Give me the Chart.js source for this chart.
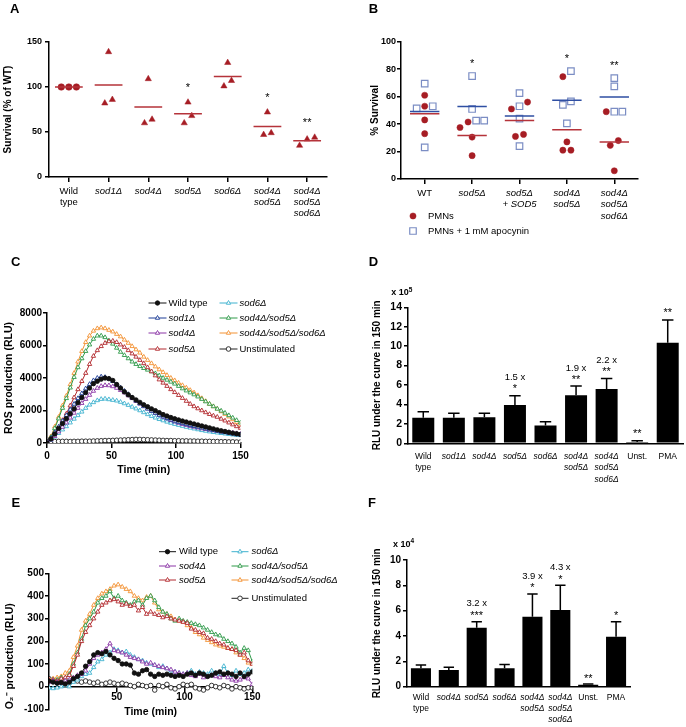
<!DOCTYPE html>
<html>
<head>
<meta charset="utf-8">
<script src="https://cdn.jsdelivr.net/npm/chart.js@4.4.1/dist/chart.umd.min.js"></script>
<style>
  body { margin: 0; background: #fff; }
  #fig { position: relative; width: 686px; height: 727px; font-family: 'Liberation Sans', Arial, sans-serif; color: #000; }
  #fig canvas { position: absolute; }
  .tag { position: absolute; font-size: 13px; font-weight: bold; line-height: 1; }
  .exp { position: absolute; font-size: 9px; font-weight: bold; line-height: 1; white-space: nowrap; }
  .exp span { font-size: 6.5px; position: relative; top: -3.5px; }
</style>
</head>
<body>
<div id="fig">
  <canvas id="cA" width="343" height="270" style="left:0;top:0"></canvas>
  <canvas id="cB" width="343" height="270" style="left:343px;top:0"></canvas>
  <canvas id="cC" width="343" height="210" style="left:0;top:270px"></canvas>
  <canvas id="cD" width="343" height="225" style="left:343px;top:270px"></canvas>
  <canvas id="cE" width="343" height="247" style="left:0;top:480px"></canvas>
  <canvas id="cF" width="343" height="247" style="left:343px;top:480px"></canvas>
  <div class="tag" style="left:10px;top:2.3px">A</div>
  <div class="tag" style="left:368.7px;top:2.3px">B</div>
  <div class="tag" style="left:11px;top:254.7px">C</div>
  <div class="tag" style="left:368.7px;top:254.7px">D</div>
  <div class="tag" style="left:11.5px;top:495.7px">E</div>
  <div class="tag" style="left:368px;top:495.7px">F</div>
  <div class="exp" style="left:391.3px;top:288px">x 10<span>5</span></div>
  <div class="exp" style="left:393px;top:539.5px">x 10<span>4</span></div>
</div>
<script>
// ---------- data ----------
const catsA = [['Wild', 'type'], 'sod1Δ', 'sod4Δ', 'sod5Δ', 'sod6Δ', ['sod4Δ', 'sod5Δ'], ['sod4Δ', 'sod5Δ', 'sod6Δ']];
const survA = [[100, 100, 100], [139, 82, 86], [109, 60, 64], [83, 60, 68], [127, 101, 107], [72, 47, 49], [44, 35, 42]];
const starsA = ['', '', '', '*', '', '*', '**'];

const catsB = ['WT', 'sod5Δ', ['sod5Δ', '+ SOD5'], ['sod4Δ', 'sod5Δ'], ['sod4Δ', 'sod5Δ', 'sod6Δ']];
const pmns = [[53, 61, 43, 33], [37.5, 41.5, 30.5, 17], [51, 56, 32.5, 31], [74.5, 27, 21, 21], [49, 28, 24.5, 6]];
const apoc = [[69.5, 51.5, 53, 23], [75, 51, 42.5, 42.5], [62.5, 53, 44, 24], [78.5, 56.5, 54, 40.5], [73.5, 67.5, 49, 49]];
const starsB = ['', '*', '', '*', '**'];

const timeC = [0, 3, 6, 9, 12, 15, 18, 21, 24, 27, 30, 33, 36, 39, 42, 45, 48, 51, 54, 57, 60, 63, 66, 69, 72, 75,
  78, 81, 84, 87, 90, 93, 96, 99, 102, 105, 108, 111, 114, 117, 120, 123, 126, 129, 132, 135, 138, 141, 144, 147, 150];
const wtC = [0, 250, 550, 900, 1200, 1500, 1800, 2100, 2480, 2800, 3100, 3380, 3650, 3800, 3930, 4000, 3960, 3850, 3600, 3380,
  3150, 2970, 2800, 2650, 2500, 2350, 2230, 2100, 1990, 1870, 1750, 1660, 1570, 1490, 1420, 1350, 1290, 1230, 1170, 1110,
  1050, 990, 930, 870, 810, 750, 710, 660, 610, 570, 530];
const sod1C = [0, 300, 650, 1000, 1350, 1700, 2050, 2400, 2750, 3050, 3350, 3620, 3850, 4000, 4080, 4050, 3950, 3800, 3600, 3400,
  3200, 3000, 2800, 2600, 2420, 2250, 2100, 1960, 1840, 1720, 1620, 1520, 1430, 1350, 1280, 1210, 1150, 1090, 1030, 980,
  930, 880, 830, 780, 730, 690, 650, 610, 570, 530, 500];
const sod4C = [0, 200, 420, 700, 980, 1250, 1550, 1850, 2150, 2450, 2700, 2950, 3200, 3380, 3500, 3550, 3540, 3480, 3380, 3250,
  3100, 2920, 2750, 2580, 2420, 2270, 2120, 1980, 1850, 1730, 1610, 1500, 1400, 1310, 1230, 1160, 1100, 1040, 990, 940,
  890, 850, 810, 770, 740, 710, 680, 650, 620, 590, 560];
const sod5C = [0, 250, 600, 950, 1400, 1800, 2300, 2800, 3300, 3800, 4300, 4850, 5350, 5700, 5950, 6150, 6250, 6280, 6200, 6050,
  5900, 5700, 5500, 5300, 5100, 4900, 4650, 4400, 4150, 3900, 3700, 3500, 3300, 3120, 2940, 2760, 2580, 2400, 2250, 2120,
  2000, 1880, 1770, 1680, 1600, 1480, 1370, 1250, 1130, 1020, 920];
const sod6C = [0, 180, 380, 600, 820, 1020, 1250, 1480, 1700, 1920, 2150, 2350, 2500, 2620, 2700, 2720, 2680, 2640, 2600, 2520,
  2430, 2330, 2220, 2110, 2000, 1880, 1760, 1650, 1550, 1460, 1380, 1300, 1230, 1160, 1100, 1040, 980, 930, 880, 830,
  780, 740, 700, 660, 630, 600, 570, 540, 510, 490, 470];
const sod45C = [0, 350, 900, 1500, 2150, 2750, 3400, 4050, 4650, 5200, 5650, 6050, 6400, 6600, 6600, 6500, 6300, 6100, 5850, 5600,
  5400, 5200, 5000, 4850, 4720, 4600, 4500, 4400, 4280, 4150, 4000, 3880, 3760, 3640, 3500, 3350, 3220, 3100, 2980, 2850,
  2700, 2550, 2400, 2250, 2100, 1980, 1850, 1700, 1550, 1400, 1250];
const sod456C = [0, 400, 1000, 1600, 2300, 2900, 3600, 4300, 5000, 5650, 6200, 6600, 6900, 7050, 7100, 7050, 6950, 6850, 6700, 6550,
  6350, 6150, 5950, 5750, 5550, 5300, 5100, 4900, 4700, 4520, 4350, 4170, 4000, 3850, 3700, 3550, 3400, 3250, 3100, 2930,
  2750, 2570, 2400, 2250, 2100, 1940, 1780, 1620, 1450, 1280, 1120];
const unstC = [80, 90, 90, 100, 100, 100, 90, 100, 100, 110, 110, 110, 120, 130, 140, 150, 150, 160, 170, 180,
  190, 200, 210, 220, 220, 210, 200, 190, 180, 170, 160, 150, 150, 140, 140, 130, 130, 120, 120, 110,
  110, 100, 100, 90, 90, 80, 80, 70, 70, 60, 60];

const catsD = [['Wild', 'type'], 'sod1Δ', 'sod4Δ', 'sod5Δ', 'sod6Δ', ['sod4Δ', 'sod5Δ'], ['sod4Δ', 'sod5Δ', 'sod6Δ'], 'Unst.', 'PMA'];
const aucD = [2.64, 2.64, 2.68, 3.95, 1.82, 4.94, 5.59, 0.14, 10.36];
const semD = [0.62, 0.45, 0.41, 0.95, 0.41, 0.96, 1.07, 0.13, 2.34];
const starsD = ['', '', '', '*', '', '**', '**', '**', '**'];
const foldD = ['', '', '', '1.5 x', '', '1.9 x', '2.2 x', '', ''];

const timeE = timeC;
const ticksE = [50, 100, 150];
const wtE = [25, 20, 15, 18, 12, 20, 35, 45, 60, 90, 110, 140, 150, 145, 155, 140, 125, 115, 100, 100,
  95, 60, 55, 70, 75, 55, 45, 55, 50, 55, 50, 45, 50, 45, 55, 60, 50, 60, 55, 45, 50, 60, 65, 55, 60, 55, 45, 60, 45, 55, 65];
const sod4E = [20, 25, 20, 15, 25, 30, 40, 50, 55, 70, 100, 125, 140, 150, 165, 190, 160, 155, 150, 140,
  130, 125, 120, 110, 100, 105, 95, 90, 85, 80, 75, 65, 60, 55, 60, 50, 45, 55, 40, 45, 50, 45, 40, 50, 40, 30, 25, 30, 40, 35, 10];
const sod5E = [30, 30, 25, 35, 40, 50, 90, 140, 200, 240, 270, 300, 330, 360, 370, 380, 385, 375, 360, 365,
  355, 360, 335, 350, 320, 330, 320, 315, 305, 310, 300, 295, 290, 285, 280, 255, 250, 240, 235, 215,
  210, 200, 190, 185, 170, 165, 160, 140, 150, 115, 100];
const sod6E = [-5, -8, -5, 0, 5, 0, 20, 30, 45, 55, 60, 85, 110, 120, 140, 150, 165, 160, 150, 155,
  140, 130, 120, 115, 105, 100, 95, 85, 90, 80, 70, 65, 60, 55, 60, 70, 55, 65, 60, 55, 70, 60, 55, 90, 60, 50, 70, 55, 60, 75, 70];
const sod45E = [25, 30, 30, 40, 35, 55, 100, 150, 210, 270, 300, 330, 370, 390, 400, 420, 390, 400, 380, 370,
  360, 375, 380, 360, 390, 400, 380, 350, 330, 320, 300, 290, 300, 290, 285, 280, 275, 270, 260, 250,
  240, 230, 225, 210, 200, 190, 175, 150, 170, 160, 110];
const sod456E = [30, 35, 40, 45, 60, 70, 130, 180, 250, 290, 320, 360, 390, 410, 420, 430, 445, 450, 440, 430,
  420, 400, 390, 380, 395, 400, 370, 340, 330, 320, 310, 295, 290, 285, 270, 260, 240, 230, 215, 205,
  195, 185, 180, 175, 170, 165, 150, 140, 125, 105, 100];
const unstE = [35, 25, 20, 30, 25, 20, 30, 25, 20, 25, 20, 15, 20, 10, 15, 20, 15, 10, 15, 10,
  5, 0, 10, 5, 0, 5, -15, 5, 0, 10, -5, -10, 0, 10, 5, 10, -5, -10, -15, -5, 5, 0, -5, 5, 0, -10, 0, -5, -10, -5, -5];

const catsF = [['Wild', 'type'], 'sod4Δ', 'sod5Δ', 'sod6Δ', ['sod4Δ', 'sod5Δ'], ['sod4Δ', 'sod5Δ', 'sod6Δ'], 'Unst.', 'PMA'];
const aucF = [1.45, 1.32, 4.66, 1.45, 5.53, 6.05, 0.16, 3.95];
const semF = [0.26, 0.21, 0.47, 0.31, 1.79, 1.95, 0.05, 1.18];
const starsF = ['', '', '***', '', '*', '*', '**', '*'];
const foldF = ['', '', '3.2 x', '', '3.9 x', '4.3 x', '', ''];

// ---------- styling helpers ----------
const FAM = "'Liberation Sans', Arial, sans-serif";
Chart.defaults.font.family = FAM;
Chart.defaults.color = '#000';

const RED_DOT = '#a61d24';
const RED_LINE = '#b5333a';
const BLUE_LINE = '#2f4fa3';
const BLUE_SQ = '#7b8dc4';
const axisLine = { color: '#000', width: 1.5 };

function marks(len) {
  return { drawOnChartArea: false, tickLength: len, tickWidth: 1.5, tickColor: '#000', color: '#000', lineWidth: 1.5 };
}

function base(extra) {
  return Object.assign({
    responsive: false, animation: false, devicePixelRatio: 1, events: [],
    plugins: { legend: { display: false }, tooltip: { enabled: false } }
  }, extra);
}

// italic for gene names, upright for the rest
function catFont(cats, size, lh) {
  return ctx => {
    const c = cats[ctx.index];
    const first = Array.isArray(c) ? c[0] : c;
    return { size, lineHeight: lh, style: /^sod/.test(first || '') ? 'italic' : 'normal' };
  };
}

function yAxis(o) {
  return {
    min: o.min, max: o.max,
    ticks: { stepSize: o.step, font: { size: o.size, weight: 'bold' }, padding: o.pad, callback: v => String(v) },
    grid: marks(4), border: axisLine,
    title: { display: true, text: o.title, align: o.align || 'center', font: { size: o.tsize, weight: 'bold' }, padding: { top: o.tpad, bottom: 0 } },
    afterFit: s => { s.width = o.width; }
  };
}

// category axis drawn on a linear scale so points can be spread sideways
function catAxis(cats, height, pad, size, lh) {
  return {
    type: 'linear', min: -0.5, max: cats.length - 0.5,
    afterBuildTicks: s => { s.ticks = cats.map((c, i) => ({ value: i })); },
    afterFit: s => { s.height = height; },
    ticks: { callback: v => cats[v], font: catFont(cats, size, lh), padding: pad, autoSkip: false, maxRotation: 0 },
    grid: marks(5), border: axisLine
  };
}

// plain category axis for the bar panels (no tick marks)
function barAxis(cats, height, pad, size, lh) {
  return {
    ticks: { font: catFont(cats, size, lh), padding: pad, autoSkip: false, maxRotation: 0 },
    grid: { display: false, drawTicks: false, tickLength: 0 }, border: axisLine,
    afterFit: s => { s.height = height; }
  };
}

const mean = a => a.reduce((s, v) => s + v, 0) / a.length;

// spread points with close values symmetrically around the category centre
function dodge(values, thr, step) {
  const idx = values.map((v, i) => i).sort((a, b) => values[a] - values[b]);
  const off = values.map(() => 0);
  let run = [idx[0]];
  const flush = () => run.forEach((k, j) => { off[k] = (j - (run.length - 1) / 2) * step; });
  for (let j = 1; j < idx.length; j++) {
    if (values[idx[j]] - values[idx[j - 1]] < thr) run.push(idx[j]);
    else { flush(); run = [idx[j]]; }
  }
  flush();
  return off;
}

function swarm(groups, thr, step) {
  return groups.map((g, i) => {
    const off = dodge(g, thr, step);
    return g.map((v, k) => ({ x: i + off[k], y: v }));
  });
}

function meanSegs(groups, half) {
  const out = [];
  groups.forEach((g, i) => {
    const m = mean(g);
    out.push({ x: i - half, y: m }, { x: i + half, y: m }, { x: i + half, y: null });
  });
  return out;
}

function series(label, xs, ys, s) {
  return {
    label, data: xs.map((x, i) => ({ x, y: ys[i] })),
    borderColor: s.color, borderWidth: 1, tension: 0,
    pointStyle: s.style, pointRadius: s.r, pointBorderColor: s.color,
    pointBackgroundColor: s.fill, pointBorderWidth: 0.9
  };
}

const STY = {
  wt: { color: '#111', style: 'circle', fill: '#111', r: 2.2 },
  sod1: { color: '#1c3c96', style: 'triangle', fill: '#fff', r: 2.5 },
  sod4: { color: '#8b35a6', style: 'triangle', fill: '#fff', r: 2.5 },
  sod5: { color: '#b2292e', style: 'triangle', fill: '#fff', r: 2.5 },
  sod6: { color: '#3fb2cf', style: 'triangle', fill: '#fff', r: 2.5 },
  sod45: { color: '#2f9a49', style: 'triangle', fill: '#fff', r: 2.5 },
  sod456: { color: '#f39233', style: 'triangle', fill: '#fff', r: 2.5 },
  unst: { color: '#222', style: 'circle', fill: '#fff', r: 2.3 }
};

// ---------- small plugins ----------
function notes(tops, rows) {
  return {
    id: 'notes',
    afterDatasetsDraw(chart) {
      const { ctx, scales: { x, y } } = chart;
      ctx.save();
      ctx.fillStyle = '#000';
      ctx.textAlign = 'center';
      ctx.textBaseline = 'middle';
      rows.forEach(r => {
        ctx.font = r.font;
        r.text.forEach((t, i) => {
          if (t) ctx.fillText(t, x.getPixelForValue(i), y.getPixelForValue(tops[i]) - r.gap);
        });
      });
      ctx.restore();
    }
  };
}

function errorBars(sem) {
  return {
    id: 'errorBars',
    afterDatasetsDraw(chart) {
      const { ctx } = chart;
      const y = chart.scales.y;
      const vals = chart.data.datasets[0].data;
      ctx.save();
      ctx.strokeStyle = '#000';
      ctx.lineWidth = 1.5;
      chart.getDatasetMeta(0).data.forEach((bar, i) => {
        const top = y.getPixelForValue(vals[i] + sem[i]);
        const w = bar.width * 0.26;
        ctx.beginPath();
        ctx.moveTo(bar.x, bar.y);
        ctx.lineTo(bar.x, top);
        ctx.moveTo(bar.x - w, top);
        ctx.lineTo(bar.x + w, top);
        ctx.stroke();
      });
      ctx.restore();
    }
  };
}

function key(items, line, gap) {
  return {
    id: 'key',
    afterDraw(chart) {
      const ctx = chart.ctx;
      ctx.save();
      items.forEach(it => {
        const ds = chart.data.datasets[it.ds];
        if (line) {
          ctx.strokeStyle = ds.borderColor;
          ctx.lineWidth = ds.borderWidth;
          ctx.beginPath();
          ctx.moveTo(it.x - line / 2, it.y);
          ctx.lineTo(it.x + line / 2, it.y);
          ctx.stroke();
        }
        ctx.fillStyle = ds.pointBackgroundColor;
        ctx.strokeStyle = ds.pointBorderColor;
        ctx.lineWidth = ds.pointBorderWidth;
        Chart.helpers.drawPoint(ctx, { pointStyle: ds.pointStyle, radius: ds.pointRadius, borderWidth: ds.pointBorderWidth, rotation: 0 }, it.x, it.y);
        ctx.fillStyle = '#000';
        ctx.font = (/^sod/.test(ds.label) ? 'italic ' : '') + '9.5px ' + FAM;
        ctx.textAlign = 'left';
        ctx.textBaseline = 'middle';
        ctx.fillText(ds.label, it.x + line / 2 + gap, it.y);
      });
      ctx.restore();
    }
  };
}

// ---------- A ----------
const ptsA = swarm(survA, 9, 0.19);
new Chart(document.getElementById('cA'), {
  type: 'scatter',
  data: {
    datasets: [
      { type: 'line', data: meanSegs(survA, 0.35), borderColor: RED_LINE, borderWidth: 1.5, pointRadius: 0 },
      { data: ptsA[0], pointStyle: 'circle', pointRadius: 3.3, pointBackgroundColor: RED_DOT, pointBorderColor: RED_DOT, pointBorderWidth: 0.5 },
      { data: ptsA.slice(1).flat(), pointStyle: 'triangle', pointRadius: 3.6, pointBackgroundColor: RED_DOT, pointBorderColor: RED_DOT, pointBorderWidth: 0.5 }
    ]
  },
  options: base({
    layout: { padding: { top: 42, right: 16, left: 0, bottom: 0 } },
    scales: {
      x: catAxis(catsA, 93, 4, 9.5, 1.15),
      y: yAxis({ min: 0, max: 150, step: 50, size: 9, pad: 3, title: 'Survival (% of WT)', tsize: 10, tpad: 2, width: 49 })
    }
  }),
  plugins: [notes(survA.map(g => Math.max(...g)), [{ text: starsA, gap: 14, font: '11px ' + FAM }])]
});

// ---------- B ----------
const allB = pmns.map((g, i) => g.concat(apoc[i]));
const ptsB = swarm(allB, 5.5, 0.17);
new Chart(document.getElementById('cB'), {
  type: 'scatter',
  data: {
    datasets: [
      { type: 'line', data: meanSegs(pmns, 0.31), borderColor: RED_LINE, borderWidth: 1.5, pointRadius: 0 },
      { type: 'line', data: meanSegs(apoc, 0.31), borderColor: BLUE_LINE, borderWidth: 1.5, pointRadius: 0 },
      { label: 'PMNs', data: ptsB.flatMap((p, i) => p.slice(0, pmns[i].length)), pointStyle: 'circle', pointRadius: 3.1,
        pointBackgroundColor: RED_DOT, pointBorderColor: RED_DOT, pointBorderWidth: 0.5 },
      { label: 'PMNs + 1 mM apocynin', data: ptsB.flatMap((p, i) => p.slice(pmns[i].length)), pointStyle: 'rect', pointRadius: 4.6,
        pointBackgroundColor: '#fff', pointBorderColor: BLUE_SQ, pointBorderWidth: 1.2 }
    ]
  },
  options: base({
    layout: { padding: { top: 41.7, right: 48, left: 0, bottom: 0 } },
    scales: {
      x: catAxis(catsB, 91, 3.6, 9.5, 1.2),
      y: yAxis({ min: 0, max: 100, step: 20, size: 9, pad: 1, title: '% Survival', tsize: 10, tpad: 26, width: 58 })
    }
  }),
  plugins: [
    notes(allB.map(g => Math.max(...g)), [{ text: starsB, gap: 12.5, font: '11px ' + FAM }]),
    key([{ ds: 2, x: 70, y: 216 }, { ds: 3, x: 70, y: 231 }], 0, 15)
  ]
});

// ---------- C ----------
new Chart(document.getElementById('cC'), {
  type: 'line',
  data: {
    datasets: [
      series('Wild type', timeC, wtC, STY.wt),
      series('sod1Δ', timeC, sod1C, STY.sod1),
      series('sod4Δ', timeC, sod4C, STY.sod4),
      series('sod5Δ', timeC, sod5C, STY.sod5),
      series('sod6Δ', timeC, sod6C, STY.sod6),
      series('sod4Δ/sod5Δ', timeC, sod45C, STY.sod45),
      series('sod4Δ/sod5Δ/sod6Δ', timeC, sod456C, STY.sod456),
      series('Unstimulated', timeC, unstC, STY.unst)
    ]
  },
  options: base({
    layout: { padding: { top: 43, right: 102.5, left: 0, bottom: 0 } },
    scales: {
      x: {
        type: 'linear', min: 0, max: 150,
        ticks: { stepSize: 50, font: { size: 10, weight: 'bold' }, padding: 2 },
        grid: marks(5), border: axisLine,
        title: { display: true, text: 'Time (min)', font: { size: 10.5, weight: 'bold' }, padding: { top: 0, bottom: 3.7 } },
        afterFit: s => { s.height = 37; }
      },
      y: yAxis({ min: 0, max: 8000, step: 2000, size: 10, pad: 1, title: 'ROS production (RLU)', tsize: 10.5, tpad: 2.4, width: 47 })
    }
  }),
  plugins: [key([
    { ds: 0, x: 157.5, y: 33 }, { ds: 1, x: 157.5, y: 48 }, { ds: 2, x: 157.5, y: 63 }, { ds: 3, x: 157.5, y: 79 },
    { ds: 4, x: 228.5, y: 33 }, { ds: 5, x: 228.5, y: 48 }, { ds: 6, x: 228.5, y: 63 }, { ds: 7, x: 228.5, y: 79 }
  ], 18, 2)]
});

// ---------- D ----------
new Chart(document.getElementById('cD'), {
  type: 'bar',
  data: { labels: catsD, datasets: [{ data: aucD, backgroundColor: '#000', barPercentage: 0.72, categoryPercentage: 1 }] },
  options: base({
    layout: { padding: { top: 37.3, right: 3, left: 0, bottom: 0 } },
    scales: {
      x: barAxis(catsD, 51.7, 7.5, 8.5, 1.35),
      y: yAxis({ min: 0, max: 14, step: 2, size: 10.5, pad: 2, title: 'RLU under the curve in 150 min', tsize: 10, tpad: 28, width: 65 })
    }
  }),
  plugins: [errorBars(semD), notes(aucD.map((v, i) => v + semD[i]), [
    { text: starsD, gap: 6.5, font: '11px ' + FAM },
    { text: foldD, gap: 18, font: '9.5px ' + FAM }
  ])]
});

// ---------- E ----------
new Chart(document.getElementById('cE'), {
  type: 'line',
  data: {
    datasets: [
      series('Wild type', timeE, wtE, STY.wt),
      series('sod4Δ', timeE, sod4E, STY.sod4),
      series('sod5Δ', timeE, sod5E, STY.sod5),
      series('sod6Δ', timeE, sod6E, STY.sod6),
      series('sod4Δ/sod5Δ', timeE, sod45E, STY.sod45),
      series('sod4Δ/sod5Δ/sod6Δ', timeE, sod456E, STY.sod456),
      series('Unstimulated', timeE, unstE, STY.unst)
    ]
  },
  options: base({
    layout: { padding: { top: 93.3, right: 90.7, left: 0, bottom: 17.7 } },
    scales: {
      x: {
        type: 'linear', min: 0, max: 150, position: { y: 0 },
        afterBuildTicks: s => { s.ticks = ticksE.map(v => ({ value: v })); },
        ticks: { font: { size: 10, weight: 'bold' }, padding: 0, callback: v => String(v) },
        grid: marks(5), border: axisLine,
        title: { display: true, text: 'Time (min)', font: { size: 10.5, weight: 'bold' }, padding: { top: 2, bottom: 0 } }
      },
      y: yAxis({ min: -100, max: 500, step: 100, size: 10, pad: 1, title: 'O₂⁻ production (RLU)', align: 'start', tsize: 10.5, tpad: 3.5, width: 49 })
    }
  }),
  plugins: [key([
    { ds: 0, x: 167.5, y: 71.7 }, { ds: 1, x: 167.5, y: 86 }, { ds: 2, x: 167.5, y: 100 },
    { ds: 3, x: 240, y: 71.7 }, { ds: 4, x: 240, y: 86 }, { ds: 5, x: 240, y: 100 }, { ds: 6, x: 240, y: 118.3 }
  ], 17, 3)]
});

// ---------- F ----------
new Chart(document.getElementById('cF'), {
  type: 'bar',
  data: { labels: catsF, datasets: [{ data: aucF, backgroundColor: '#000', barPercentage: 0.72, categoryPercentage: 1 }] },
  options: base({
    layout: { padding: { top: 80, right: 56, left: 0, bottom: 0 } },
    scales: {
      x: barAxis(catsF, 40.3, 6, 8.5, 1.27),
      y: yAxis({ min: 0, max: 10, step: 2, size: 10, pad: 2, title: 'RLU under the curve in 150 min', tsize: 10, tpad: 28, width: 64 })
    }
  }),
  plugins: [errorBars(semF), notes(aucF.map((v, i) => v + semF[i]), [
    { text: starsF, gap: 5.5, font: '11px ' + FAM },
    { text: foldF, gap: 18, font: '9.5px ' + FAM }
  ])]
});
</script>
</body>
</html>
